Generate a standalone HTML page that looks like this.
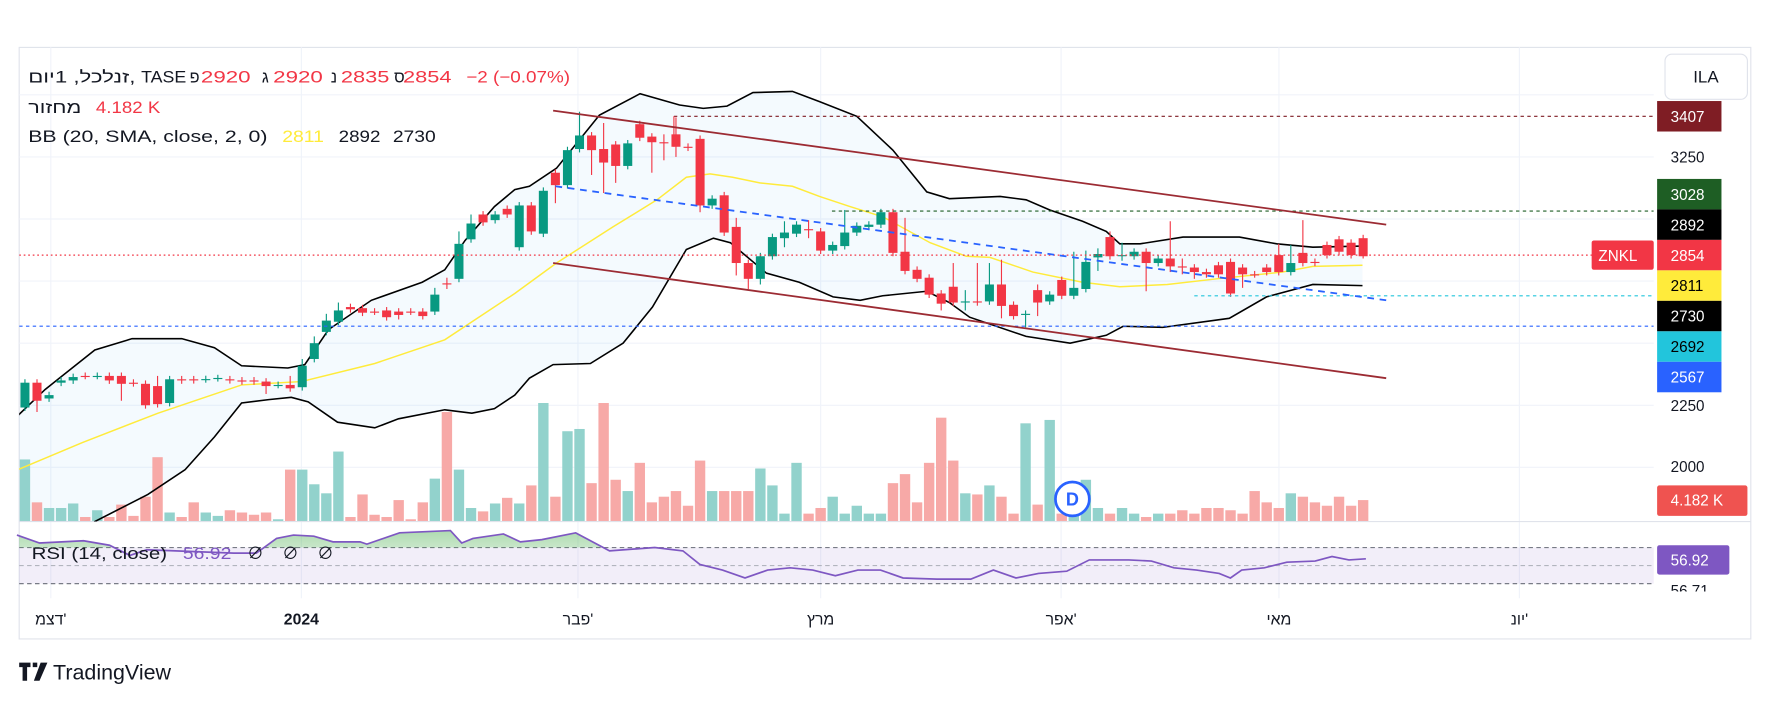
<!DOCTYPE html>
<html><head><meta charset="utf-8">
<style>
html,body{margin:0;padding:0;background:#fff;}
svg{display:block;}
text{font-family:"Liberation Sans","Noto Sans CJK JP",sans-serif;}
</style></head>
<body>
<svg id="c" width="1770" height="702" viewBox="0 0 1568 621.86" preserveAspectRatio="none" xmlns="http://www.w3.org/2000/svg">
<defs>
<clipPath id="pane"><rect x="17" y="42" width="1448" height="420"/></clipPath>
<clipPath id="rsiTop"><rect x="17" y="462" width="1448" height="23"/></clipPath>
<linearGradient id="gg" x1="0" y1="0" x2="0" y2="1"><stop offset="0" stop-color="#4caf50" stop-opacity="0.45"/><stop offset="1" stop-color="#4caf50" stop-opacity="0.05"/></linearGradient>
</defs>
<rect x="0" y="0" width="1568" height="622" fill="#fff"/>
<rect x="17" y="42" width="1534" height="524" fill="#fff" stroke="#e0e3eb" stroke-width="1"/>
<g id="grid" stroke="#f0f3fa" stroke-width="1"></g>
<g id="main" clip-path="url(#pane)"></g>
<g id="rsi"></g>
<g id="axis"></g>
</svg>
<script>
const NS="http://www.w3.org/2000/svg";
function el(p,t,a,txt){const e=document.createElementNS(NS,t);for(const k in a)e.setAttribute(k,a[k]);if(txt!==undefined)e.textContent=txt;p.appendChild(e);return e;}
function tx(p,x,y,w,s,col,size,extra){const a={x:x,y:y,'font-size':size||14.5,fill:col||'#131722'};if(w){a.textLength=w;a.lengthAdjust='spacingAndGlyphs';}Object.assign(a,extra||{});return el(p,'text',a,s);}
const grid=document.getElementById('grid'),main=document.getElementById('main'),rsi=document.getElementById('rsi'),ax=document.getElementById('axis');
[84,139,194,249,304,359,414].forEach(y=>el(grid,'line',{x1:17,x2:1465,y1:y,y2:y}));
[45,267,512,727,940,1133,1346].forEach(x=>el(grid,'line',{x1:x,x2:x,y1:42,y2:530}));
el(grid,'line',{x1:17,x2:1551,y1:462,y2:462,stroke:'#e0e3eb'});
function pts(a){return a.map(p=>p.join(',')).join(' ');}
const up=[[16,368],[40,345],[84,310],[117,300],[161,300],[190,308],[214,324],[255,326],[270,323],[291,292],[329,266],[374,250],[394,239],[412,213],[438,183],[456,168],[469,165],[493,149],[531,102],[567,83],[602,93],[623,96],[644,94],[667,82],[702,81],[726,90],[759,103],[791,133],[821,170],[841,176],[886,174],[909,177],[930,186],[959,196],[980,205],[992,216],[1010,216],[1048,210],[1098,210],[1131,216],[1163,219],[1207,218]];
const lo=[[16,540],[50,500],[84,462],[131,438],[164,416],[190,387],[214,357],[238,354],[258,352],[273,356],[299,374],[332,379],[353,371],[394,363],[418,366],[438,362],[456,350],[469,335],[490,323],[523,322],[552,304],[578,272],[608,221],[632,211],[647,215],[679,242],[708,250],[738,263],[762,266],[782,262],[821,258],[841,268],[859,281],[909,298],[948,304],[980,297],[995,289],[1030,290],[1089,282],[1122,263],[1163,252],[1207,253]];
const sma=[[16,416],[73,392],[140,366],[214,341],[267,338],[332,322],[394,301],[456,260],[493,233],[543,201],[582,177],[608,157],[629,154],[649,157],[673,162],[702,165],[726,174],[753,183],[782,192],[824,215],[856,227],[877,228],[915,241],[959,250],[992,254],[1034,252],[1078,247],[1136,241],[1163,236],[1207,235]];
el(main,'polygon',{points:pts(up.concat(lo.slice().reverse())),fill:'#2196f3','fill-opacity':0.05});
const C=[
[361,339],[339,355,0,365],[353,350],[339,337],[337,334,331],[333,333],[333,333],[333,337],[333,340,0,355],[339,339.5],
[340,359],[342,358,333],[357,336,333],[336,337],[336,336.8],[336,335.8],[335,334.8,332],[336,336.8],[337,337.8],[337,337.8],
[338,342,0,349],[341,341],[341,344,333],[343,324,318],[318,304,298],[294,284,278],[285,275,268],[272,274,0,277],[273,277],[276,276],
[275,281,0,284],[276,279,0,283],[276,276],[276,280,0,283],[276,261,255],[251,251.8,246,256],[247,216,205],[212,198,190],[190,197,0,200],[195,190],
[185,190],[219,182],[182,205],[207,169],[153,164,0,180],[164,133],[132,120,99],[120,133,0,155],[132,144,109,171],[128,147,0,162],
[147,127],[110,122],[121,126,0,153],[126,126,119,142],[119,130,104,139],[130,130.8],[123,182,0,188],[182,176],[173,206],[201,233,193,244],
[233,247,0,256],[247,227,0,252],[227,210],[211,206,196,219],[207,199],[203,203.8,195,211],[205,222],[222,217],[218,206,186],[206,200],
[201,199],[199,188],[188,224],[223,240,193],[239,247],[246,261],[260,269,0,275],[254,268,233],[267,267,257,275],[267,267.8,233],
[267,252,233],[252,271,230,282],[270,280],[279,278,0,290],[257,268,252,280],[267,261],[248,262],[262,255,223],[256,232,222],[228,225,220,240],
[210,227,205],[227,226,215,231],[227,223],[223,233,0,258],[233,229],[229,236,196,241],[236,236.8,229,243],[237,241,0,247],[241,243],[235,243,0,246],
[232,260,0,263],[237,243,0,255],[243,243.8,0,246],[237,241],[226,241,216],[241,233,217],[224,233,195],[232,232.8],[217,226,214],[212,223],
[215,226,0,229],[211,227,0,229]];
const V=[407,445,450,450,446,458,452,458,447,457,440,405,454,458,445,454,457,452,454,456,454,460,416,416,429,437,400,458,438,456,458,443,460,445,424,365,416,450,453,446,
441,446,430,357,440,382,380,428,357,425,435,410,445,440,435,448,408,435,435,435,435,415,430,455,410,455,450,440,455,448,455,455,428,420,445,410,370,408,437,438,430,440,455,375,447,372,455,450,425,450,
455,450,455,458,455,455,452,455,450,450,452,455,435,445,450,437,440,445,448,440,448,443];
const X=i=>22.1+i*10.68;
const G='#089981',R='#f23645';
const colOf=(c,i)=>(c[1]<c[0])?G:(c[1]>c[0]?R:((i%3)?R:G));
C.forEach((c,i)=>{const x=X(i);const v=V[i]||450;
  el(main,'rect',{x:x-4.6,y:v,width:9.2,height:461.5-v,fill:colOf(c,i)==G?'#92d2cc':'#f7a9a7'});});
el(main,'polyline',{points:pts(sma),fill:'none',stroke:'#ffeb3b','stroke-width':1.3});
el(main,'polyline',{points:pts(up),fill:'none',stroke:'#000','stroke-width':1.4});
el(main,'polyline',{points:pts(lo),fill:'none',stroke:'#000','stroke-width':1.4});
C.forEach((c,i)=>{
  let [o,cl,h,l]=c; const x=X(i);
  const top=Math.min(o,cl),bot=Math.max(o,cl);
  if(!h)h=top-3; if(!l)l=bot+3;
  const colr=colOf(c,i);
  el(main,'line',{x1:x,x2:x,y1:h,y2:l,stroke:colr,'stroke-width':1});
  el(main,'rect',{x:x-4,y:top,width:8,height:Math.max(bot-top,1),fill:colr});
});
el(main,'line',{x1:17,x2:1465,y1:226,y2:226,stroke:'#f23645','stroke-dasharray':'1.5,2.5','stroke-width':1});
el(main,'line',{x1:597,x2:1465,y1:103,y2:103,stroke:'#7f1d24','stroke-dasharray':'3,3','stroke-width':1});
el(main,'line',{x1:597,x2:597,y1:103,y2:130,stroke:'#f23645','stroke-width':1});
el(main,'line',{x1:737,x2:1465,y1:187,y2:187,stroke:'#1e5e24','stroke-dasharray':'3,3','stroke-width':1});
el(main,'line',{x1:1058,x2:1465,y1:262,y2:262,stroke:'#22c5dc','stroke-dasharray':'3,3','stroke-width':1});
el(main,'line',{x1:17,x2:1465,y1:289,y2:289,stroke:'#2962ff','stroke-dasharray':'3,3','stroke-width':1});
el(main,'line',{x1:490,y1:98,x2:1228,y2:199,stroke:'#9c2b33','stroke-width':1.6});
el(main,'line',{x1:490,y1:233,x2:1228,y2:335,stroke:'#9c2b33','stroke-width':1.6});
el(main,'line',{x1:492,y1:165,x2:1228,y2:266,stroke:'#2962ff','stroke-width':1.6,'stroke-dasharray':'6,5'});
el(main,'circle',{cx:950,cy:442,r:15,fill:'#fff',stroke:'#2962ff','stroke-width':2.4});
el(main,'text',{x:950,y:448,'text-anchor':'middle','font-size':16,fill:'#2962ff','font-weight':'bold'},'D');
el(rsi,'rect',{x:17,y:485,width:1448,height:32,fill:'#7e57c2','fill-opacity':0.1});
[[485,'#787b86'],[501,'#b2b5be'],[517,'#787b86']].forEach(a=>el(rsi,'line',{x1:17,x2:1465,y1:a[0],y2:a[0],stroke:a[1],'stroke-dasharray':'4,3','stroke-width':1}));
const rp=[[15,474],[35,481],[74,479],[97,483],[115,492],[130,487],[207,490],[227,490],[245,477],[260,474],[278,475],[295,480],[319,480],[325,482],[354,472],[399,470],[409,481],[419,477],[446,473],[461,480],[480,478],[510,472],[540,488],[580,485],[605,488],[620,500],[640,505],[660,512],[680,505],[700,503],[720,505],[740,510],[760,505],[780,505],[800,512],[830,513],[860,513],[880,505],[900,512],[920,508],[945,506],[965,496],[1000,496],[1020,497],[1040,503],[1060,505],[1080,508],[1090,512],[1100,505],[1120,503],[1140,498],[1165,497],[1180,493],[1195,496],[1210,495]];
el(rsi,'polygon',{points:pts([[15,485]].concat(rp).concat([[1210,485]])),fill:'url(#gg)','clip-path':'url(#rsiTop)'});
el(rsi,'polyline',{points:pts(rp),fill:'none',stroke:'#7e57c2','stroke-width':1.5});
tx(rsi,28,495,120,'RSI (14, close)');
tx(rsi,162,495,43,'56.92','#7e57c2');
tx(rsi,219,495,0,'∅');tx(rsi,250,495,0,'∅');tx(rsi,281,495,0,'∅');
tx(ax,25,73,95,'זנלכל, 1יום,');
tx(ax,125,73,40,'TASE');
tx(ax,168,73,0,'פ');tx(ax,178,73,44,'2920',R);
tx(ax,232,73,0,'ג');tx(ax,242,73,44,'2920',R);
tx(ax,293,73,0,'נ');tx(ax,302,73,43,'2835',R);
tx(ax,349,73,0,'ס');tx(ax,357,73,43,'2854',R);
tx(ax,413,73,92,'−2 (−0.07%)',R);
tx(ax,25,100,47,'מחזור');
tx(ax,85,100,57,'4.182 K',R);
tx(ax,25,126,212,'BB (20, SMA, close, 2, 0)');
tx(ax,250,126,37,'2811','#ffeb3b');
tx(ax,300,126,37,'2892');
tx(ax,348,126,38,'2730');
el(ax,'rect',{x:1475,y:48,width:73,height:40,rx:6,fill:'#fff',stroke:'#e0e3eb'});
el(ax,'text',{x:1500,y:73,'font-size':15,fill:'#131722'},'ILA');
[[3250,139],[2250,359],[2000,413]].forEach(a=>el(ax,'text',{x:1480,y:a[1]+5,'font-size':13.5,fill:'#131722'},a[0]));
[['3407',103,'#7f1d24','#fff'],['3028',172,'#1e5e24','#fff'],['2892',199,'#000','#fff'],['2854',226,'#f23645','#fff'],['2811',253,'#ffeb3b','#000'],['2730',280,'#000','#fff'],['2692',307,'#22c5dc','#000'],['2567',334,'#2962ff','#fff']].forEach(a=>{
 el(ax,'rect',{x:1468,y:a[1]-13.5,width:57,height:27,fill:a[2]});
 el(ax,'text',{x:1480,y:a[1]+5,'font-size':13.5,fill:a[3]},a[0]);
});
el(ax,'rect',{x:1410,y:213,width:55,height:26,rx:2,fill:'#f23645'});
el(ax,'text',{x:1416,y:231,'font-size':13.5,fill:'#fff'},'ZNKL');
el(ax,'rect',{x:1468,y:430,width:80,height:27,rx:2,fill:'#ef5350'});
el(ax,'text',{x:1480,y:448,'font-size':13.5,fill:'#fff'},'4.182 K');
el(ax,'rect',{x:1468,y:483,width:64,height:26,rx:2,fill:'#7e57c2'});
el(ax,'text',{x:1480,y:501,'font-size':13.5,fill:'#fff'},'56.92');
const cp=el(ax,'clipPath',{id:'cl'});el(cp,'rect',{x:1465,y:510,width:80,height:14});
el(ax,'text',{x:1480,y:528,'font-size':13.5,fill:'#131722','clip-path':'url(#cl)'},'56.71');
[["דצמ'",45],["2024",267],["פבר'",512],["מרץ",727],["אפר'",940],["מאי",1133],["יונ'",1346]].forEach(a=>el(ax,'text',{x:a[1],y:553,'font-size':14,fill:'#131722','text-anchor':'middle','font-weight':a[0]=='2024'?'bold':'normal'},a[0]));
el(ax,'path',{d:'M17 587 h10 v4 h-3 v12 h-4 v-12 h-3 z M29 587 h4 v4 h-4 z M36 587 h6 l-7 16 h-5 z',fill:'#131722'});
el(ax,'text',{x:47,y:602,'font-size':19,fill:'#131722'},'TradingView');
</script>
</body></html>
